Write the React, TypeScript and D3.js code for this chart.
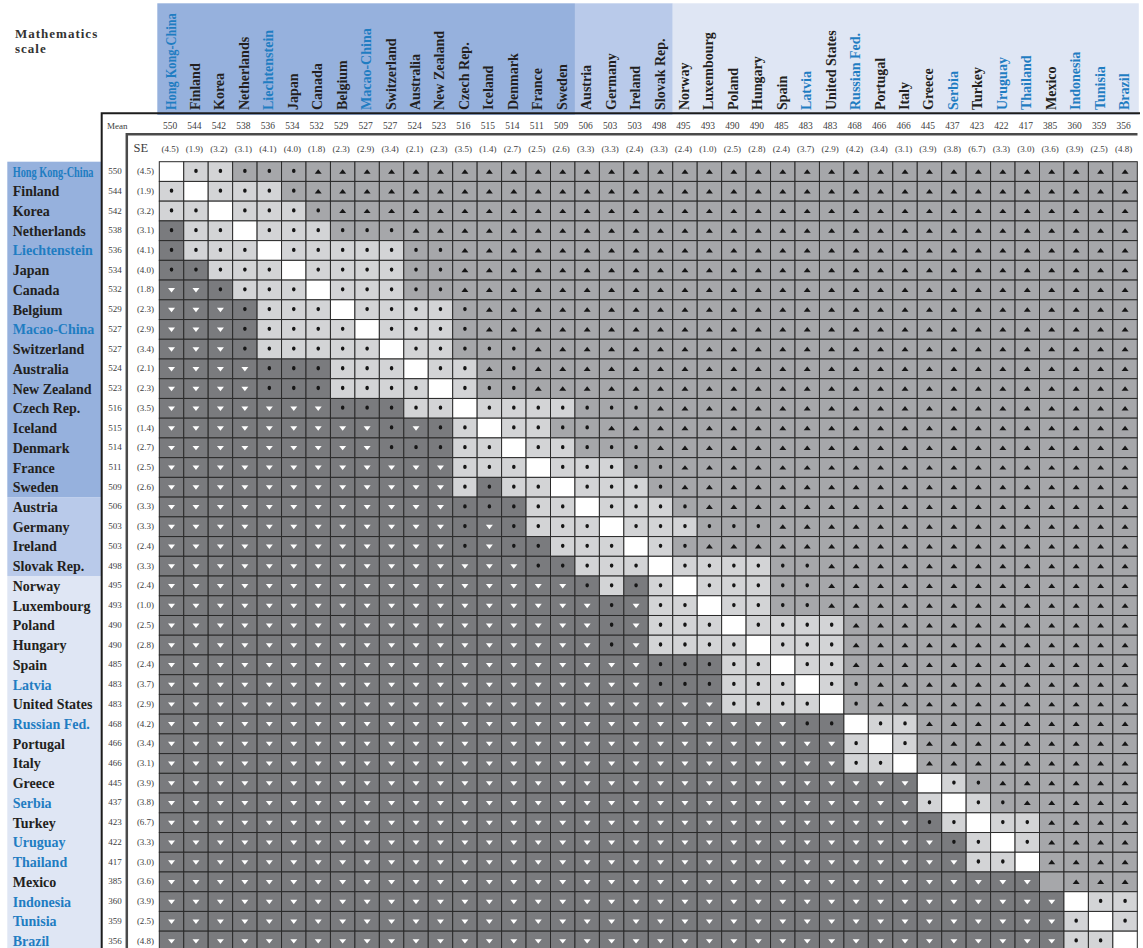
import React from "react";
import * as d3 from "d3";

// ---------- data ----------
const countries = [
  "Hong Kong-China", "Finland", "Korea", "Netherlands", "Liechtenstein", "Japan", "Canada", "Belgium",
  "Macao-China", "Switzerland", "Australia", "New Zealand", "Czech Rep.", "Iceland", "Denmark", "France",
  "Sweden", "Austria", "Germany", "Ireland", "Slovak Rep.", "Norway", "Luxembourg", "Poland", "Hungary",
  "Spain", "Latvia", "United States", "Russian Fed.", "Portugal", "Italy", "Greece", "Serbia", "Turkey",
  "Uruguay", "Thailand", "Mexico", "Indonesia", "Tunisia", "Brazil",
];
const means = [
  550, 544, 542, 538, 536, 534, 532, 529, 527, 527, 524, 523, 516, 515, 514, 511, 509, 506, 503, 503,
  498, 495, 493, 490, 490, 485, 483, 483, 468, 466, 466, 445, 437, 423, 422, 417, 385, 360, 359, 356,
];
const standardErrors = [
  "4.5", "1.9", "3.2", "3.1", "4.1", "4.0", "1.8", "2.3", "2.9", "3.4", "2.1", "2.3", "3.5", "1.4",
  "2.7", "2.5", "2.6", "3.3", "3.3", "2.4", "3.3", "2.4", "1.0", "2.5", "2.8", "2.4", "3.7", "2.9",
  "4.2", "3.4", "3.1", "3.9", "3.8", "6.7", "3.3", "3.0", "3.6", "3.9", "2.5", "4.8",
];
const partnerCountries = [
  "Hong Kong-China", "Liechtenstein", "Macao-China", "Latvia", "Russian Fed.", "Serbia",
  "Uruguay", "Thailand", "Indonesia", "Tunisia", "Brazil",
];
// above OECD average / not different / below
const groupSizes = [17, 4, 19];
// comparisons of each row with the countries to its right, starting next to the diagonal:
// l = no difference (light), m = no difference after adjustment (mid shade), A = higher; rest are A
const upperNearDiagonal = [
  "llmmm", "lllm", "lllm", "lllmmm", "lllllmm", "llllmm", "lllmm", "llllm", "lllm", "llmmm",
  "llAm", "lmm", "llllmmm", "llmm", "llmmm", "lllmm", "lllm", "lllm", "lllmmm", "lm",
  "llllmm", "lllmm", "llmm", "llll", "lll", "ll", "lm", "m", "ll", "l",
  "", "lm", "lm", "ll", "l", "", "", "ll", "l", "",
];
const greyDiagonal = ["Mexico"];
const titleLines = ["Mathematics", "scale"];
const condensedLabels = ["Hong Kong-China"];

// ---------- styling ----------
const W = 1143;
const H = 948;
const FONT = "'Liberation Serif', 'DejaVu Serif', serif";
const groupFills = ["#96b1dd", "#b9caea", "#dfe6f4"];
const cellFills: Record<string, string> = {
  light: "#d3d4d6",
  medium: "#a6a7aa",
  dark: "#7a7b7e",
  white: "#ffffff",
};
const BLUE = "#1f7dc2";
const INK = "#231f20";
const NUM = "#3d3d3d";

type Sym = "up" | "down" | "dot" | null;

function cellOf(r: number, c: number): { bg: string; sym: Sym } {
  if (r === c) return { bg: greyDiagonal.includes(countries[r]) ? "medium" : "white", sym: null };
  const i = Math.min(r, c);
  const j = Math.max(r, c);
  const s = upperNearDiagonal[i];
  const k = j - i - 1;
  const code = k < s.length ? s[k] : "A";
  if (r < c) {
    if (code === "l") return { bg: "light", sym: "dot" };
    if (code === "m") return { bg: "medium", sym: "dot" };
    return { bg: "medium", sym: "up" };
  }
  if (code === "l") return { bg: "light", sym: "dot" };
  if (code === "m") return { bg: "dark", sym: "dot" };
  return { bg: "dark", sym: "down" };
}

export default function App() {
  const x = d3.scaleBand<string>().domain(countries).range([159.3, 1137.3]).padding(0);
  const y = d3
    .scaleBand<string>()
    .domain(countries)
    .range([161.7, 161.7 + countries.length * 19.73])
    .padding(0);
  const bw = x.bandwidth();
  const bh = y.bandwidth();

  const triPath = d3.symbol().type(d3.symbolTriangle).size(19)() as string;
  const dotPath = d3.symbol().type(d3.symbolCircle).size(10)() as string;

  const groups = groupSizes.map((n, g) => {
    const start = groupSizes.slice(0, g).reduce((a, b) => a + b, 0);
    return { g, first: countries[start], last: countries[start + n - 1] };
  });

  const cells: JSX.Element[] = [];
  countries.forEach((rc, r) => {
    countries.forEach((cc, c) => {
      const { bg, sym } = cellOf(r, c);
      const x0 = x(cc)!;
      const y0 = y(rc)!;
      const cx = x0 + bw / 2;
      const cy = y0 + bh / 2;
      cells.push(
        <rect
          key={`c${r}-${c}`}
          x={x0}
          y={y0}
          width={bw}
          height={bh}
          fill={cellFills[bg]}
          stroke="#2a2a2a"
          strokeWidth={1}
        />
      );
      if (sym === "up") {
        cells.push(
          <path key={`s${r}-${c}`} d={triPath} fill="#161616" transform={`translate(${cx},${cy + 0.6}) scale(1.05,0.78)`} />
        );
      } else if (sym === "down") {
        cells.push(
          <path key={`s${r}-${c}`} d={triPath} fill="#ffffff" transform={`translate(${cx},${cy - 0.4}) scale(1.05,-0.78)`} />
        );
      } else if (sym === "dot") {
        cells.push(
          <path key={`s${r}-${c}`} d={dotPath} fill="#161616" transform={`translate(${cx},${cy - 0.6}) scale(1,1.2)`} />
        );
      }
    });
  });

  return (
    <svg
      width={W}
      height={H}
      viewBox={`0 0 ${W} ${H}`}
      style={{ position: "absolute", left: 0, top: 0, display: "block", background: "#fff" }}
      fontFamily={FONT}
    >
      {/* title */}
      {titleLines.map((t, i) => (
        <text key={t} x={15} y={37.5 + i * 15} fontSize={13} fontWeight="bold" fill="#333" letterSpacing={1}>
          {t}
        </text>
      ))}

      {/* header band behind column labels */}
      {groups.map(({ g, first, last }) => {
        const x0 = g === 0 ? x(first)! - 2 : x(first)!;
        const x1 = g === groups.length - 1 ? x(last)! + bw + 1.5 : x(last)! + bw;
        return <rect key={`hb${g}`} x={x0} y={3.3} width={x1 - x0} height={111.7} fill={groupFills[g]} />;
      })}

      {/* row band behind row labels */}
      {groups.map(({ g, first, last }) => {
        const y0 = y(first)!;
        const y1 = y(last)! + bh;
        return <rect key={`rb${g}`} x={7.3} y={y0} width={94.2} height={y1 - y0} fill={groupFills[g]} />;
      })}

      {/* column labels */}
      {countries.map((c) => {
        const cx = x(c)! + bw / 2;
        const sx = condensedLabels.includes(c) ? 0.88 : 1;
        return (
          <text
            key={`cl${c}`}
            transform={`translate(${cx + 4},110) rotate(-90) scale(${sx},1)`}
            fontSize={14}
            fontWeight="bold"
            fill={partnerCountries.includes(c) ? BLUE : INK}
          >
            {c}
          </text>
        );
      })}

      {/* row labels */}
      {countries.map((c) => {
        const cy = y(c)! + bh / 2;
        const sx = condensedLabels.includes(c) ? 0.735 : 1;
        return (
          <text
            key={`rl${c}`}
            transform={`translate(12.7,${cy + 5}) scale(${sx},1)`}
            fontSize={14}
            fontWeight="bold"
            fill={partnerCountries.includes(c) ? BLUE : INK}
          >
            {c}
          </text>
        );
      })}

      {/* header mean / SE rows */}
      <text x={107} y={129} fontSize={9} fill={NUM}>
        Mean
      </text>
      <text x={133.5} y={152} fontSize={12.5} fill={NUM}>
        SE
      </text>
      {countries.map((c, i) => {
        const cx = x(c)! + bw / 2 - 1.5;
        return (
          <g key={`hm${c}`}>
            <text x={cx} y={129} fontSize={9.5} fill={NUM} textAnchor="middle">
              {means[i]}
            </text>
            <text x={cx} y={151.5} fontSize={9} fill={NUM} textAnchor="middle">
              {`(${standardErrors[i]})`}
            </text>
          </g>
        );
      })}

      {/* row mean / SE */}
      {countries.map((c, i) => {
        const cy = y(c)! + bh / 2;
        return (
          <g key={`rm${c}`}>
            <text x={115} y={cy + 2.5} fontSize={9} fill={NUM} textAnchor="middle">
              {means[i]}
            </text>
            <text x={145.5} y={cy + 2.5} fontSize={9} fill={NUM} textAnchor="middle">
              {`(${standardErrors[i]})`}
            </text>
          </g>
        );
      })}

      {/* comparison matrix */}
      <g>{cells}</g>

      {/* frame lines */}
      <path d={`M101.7,${H} V113.3 H1140`} fill="none" stroke="#1c1c1c" strokeWidth={2} />
      <path d={`M126.8,${H} V134.3 H1137.5`} fill="none" stroke="#4a4a4a" strokeWidth={2.5} />
    </svg>
  );
}
